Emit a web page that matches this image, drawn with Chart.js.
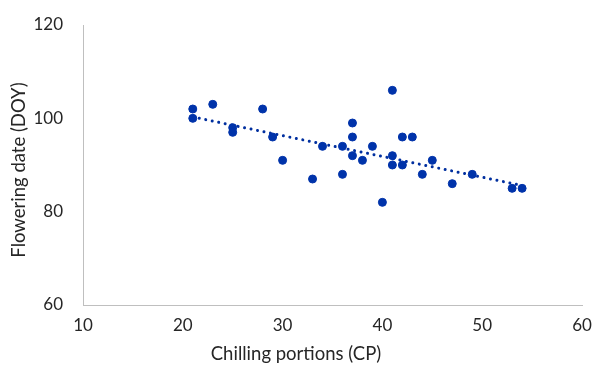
<!DOCTYPE html>
<html>
<head>
<meta charset="utf-8">
<script src="https://cdn.jsdelivr.net/npm/chart.js@4"></script>
<style>
  html, body { margin: 0; padding: 0; background: #fff; }
  #wrap { width: 594px; height: 365px; position: relative; }
</style>
</head>
<body>
<div id="wrap"><canvas id="chart"></canvas></div>
<script>
// Chilling portions (CP) vs flowering date (DOY)
const chillPortions = [21, 21, 23, 25, 25, 28, 29, 30, 33, 34, 36, 36, 37, 37, 37, 38, 39, 40, 41, 41, 41, 42, 42, 43, 44, 45, 47, 49, 53, 54];
const floweringDoy  = [102, 100, 103, 98, 97, 102, 96, 91, 87, 94, 94, 88, 99, 96, 92, 91, 94, 82, 106, 92, 90, 96, 90, 96, 88, 91, 86, 88, 85, 85];

// linear trendline end points (as drawn)
const trendX = [21, 54];
const trendY = [100.3, 85.6];

const xTicks = [10, 20, 30, 40, 50, 60];
const yTicks = [60, 80, 100, 120];

const xTitle = 'Chilling portions (CP)';
const yTitle = 'Flowering date (DOY)';

const FONT = 'Lato, "Open Sans", sans-serif';
const TEXT = '#262626';
const AXIS = '#bfbfbf';
const BLUE = '#0033aa';

const points = chillPortions.map((x, i) => ({ x, y: floweringDoy[i] }));
const trend = trendX.map((x, i) => ({ x, y: trendY[i] }));

// axis titles are centred like the original (x title on the whole canvas)
const titlesPlugin = {
    id: 'axisTitles',
    afterDraw(chart) {
        const ctx = chart.ctx;
        ctx.save();
        ctx.fillStyle = TEXT;
        ctx.font = '18.5px ' + FONT;
        ctx.textAlign = 'center';
        ctx.textBaseline = 'middle';
        ctx.fillText(xTitle, 296, 354);
        ctx.translate(19, 170);
        ctx.rotate(-Math.PI / 2);
        ctx.fillText(yTitle, 0, 0);
        ctx.restore();
    }
};

new Chart(document.getElementById('chart'), {
    type: 'scatter',
    data: {
        datasets: [
            {
                label: 'Flowering date',
                data: points,
                backgroundColor: BLUE,
                borderColor: BLUE,
                pointRadius: 4,
                pointHoverRadius: 4,
                showLine: false,
            },
            {
                label: 'Linear trend',
                data: trend,
                showLine: true,
                borderColor: '#002f9f',
                borderWidth: 3,
                borderDash: [0.01, 6.6],
                borderCapStyle: 'round',
                pointRadius: 0,
                fill: false,
            },
        ],
    },
    options: {
        responsive: true,
        maintainAspectRatio: false,
        animation: false,
        layout: { padding: { top: 25, right: 12, bottom: 0, left: 0 } },
        plugins: {
            legend: { display: false },
            tooltip: { enabled: false },
        },
        scales: {
            x: {
                type: 'linear',
                min: 10,
                max: 60,
                afterBuildTicks: s => { s.ticks = xTicks.map(v => ({ value: v })); },
                // fixed box; drop the label overhang so the plot area is exact
                afterFit: s => { s.height = 60; s.paddingLeft = 0; s.paddingRight = 0; },
                grid: { display: false, drawTicks: false },
                border: { display: true, color: AXIS, width: 1 },
                ticks: { color: TEXT, font: { size: 17, family: FONT }, padding: 10 },
            },
            y: {
                type: 'linear',
                min: 60,
                max: 120,
                afterBuildTicks: s => { s.ticks = yTicks.map(v => ({ value: v })); },
                afterFit: s => { s.width = 83; s.paddingTop = 0; s.paddingBottom = 0; },
                grid: { display: false, drawTicks: false },
                border: { display: true, color: AXIS, width: 1 },
                ticks: { color: TEXT, font: { size: 17, family: FONT }, padding: 20 },
            },
        },
    },
    plugins: [titlesPlugin],
});
</script>
</body>
</html>
